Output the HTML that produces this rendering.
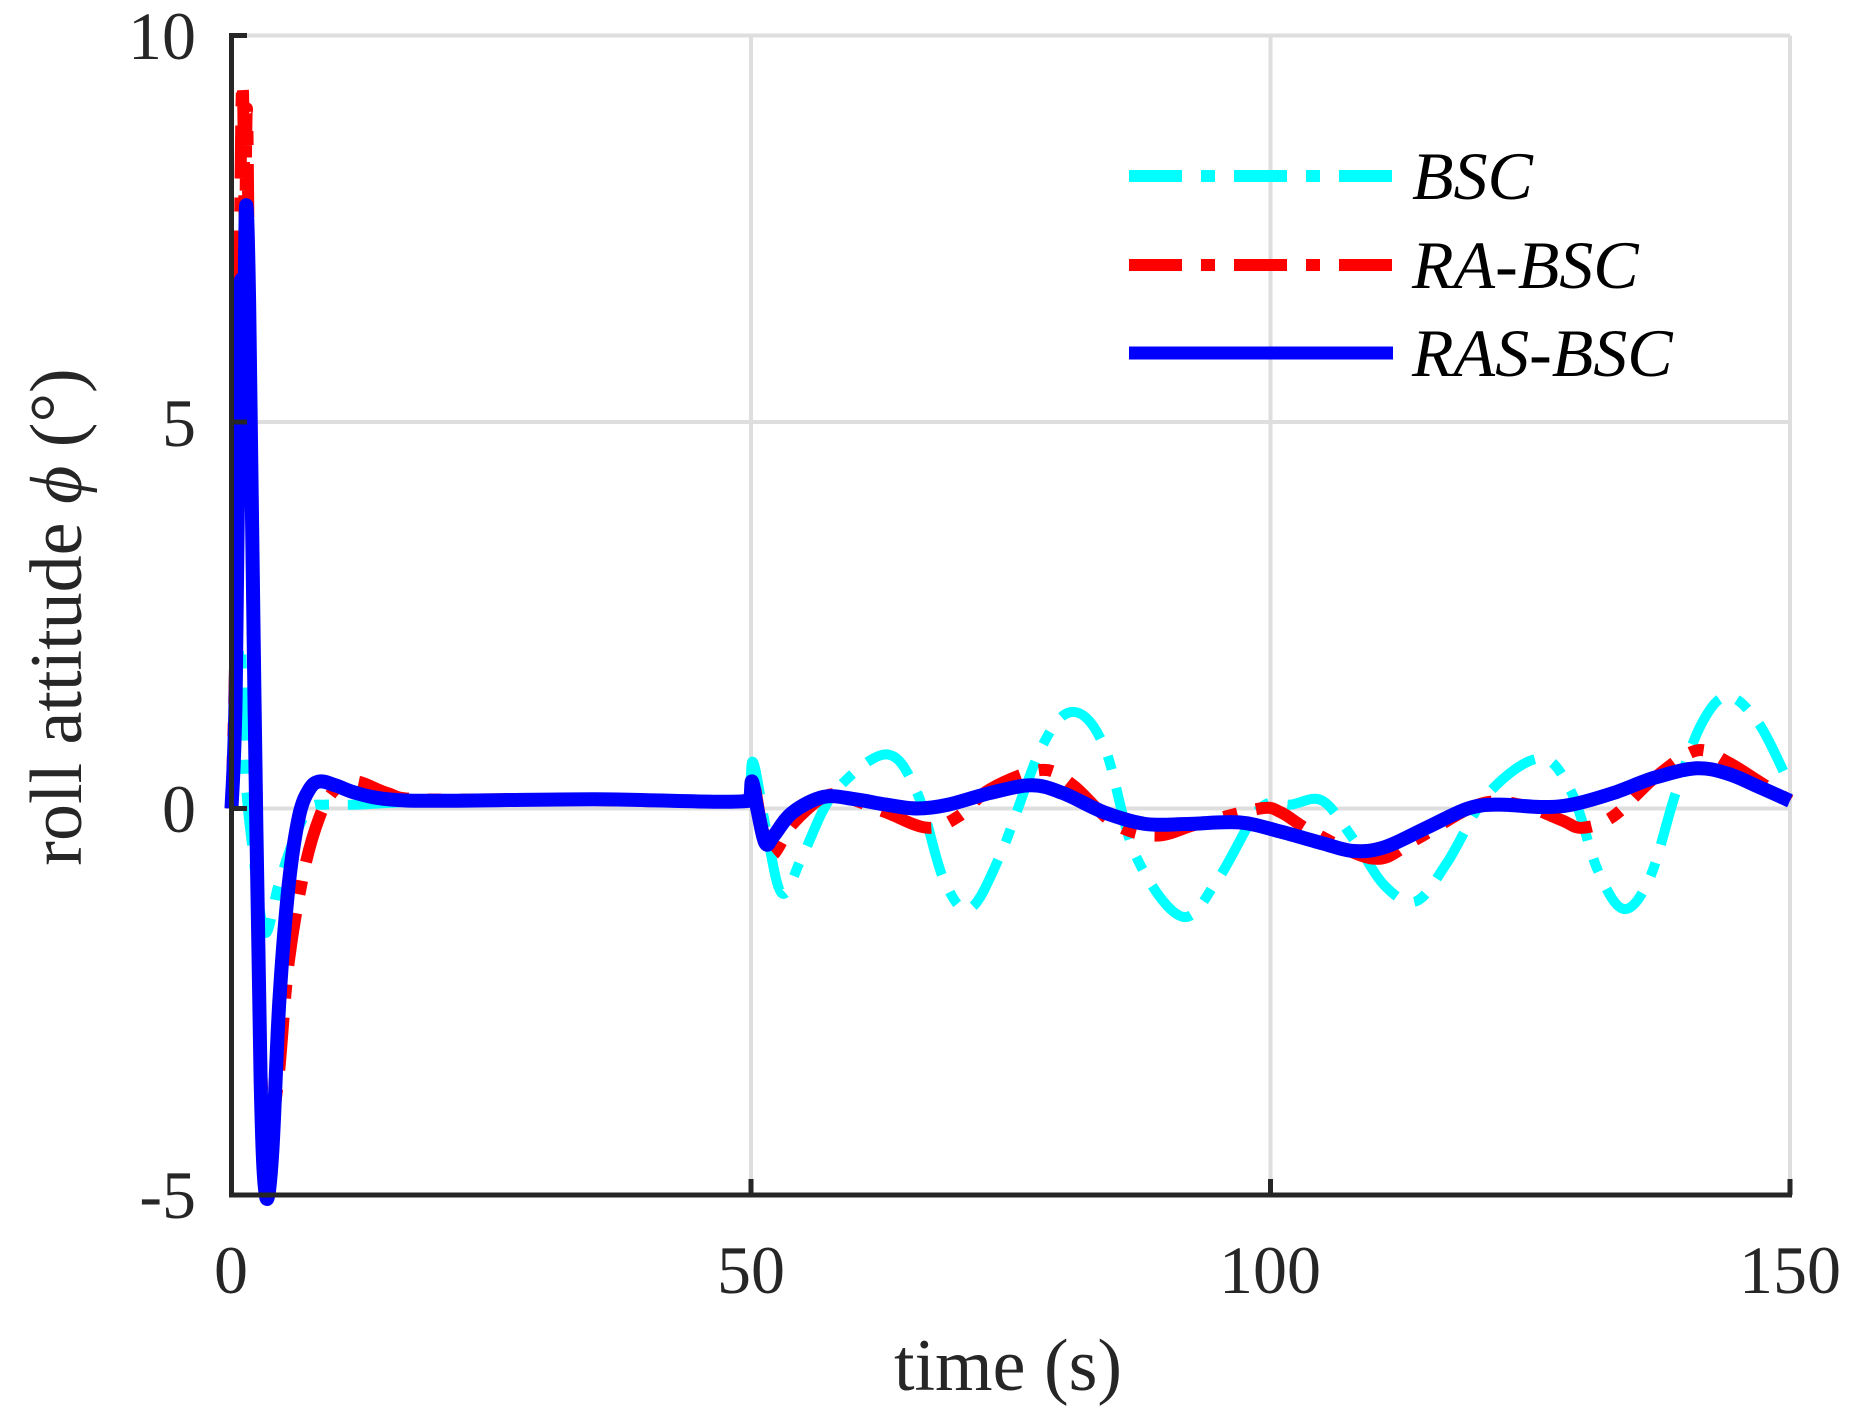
<!DOCTYPE html>
<html><head><meta charset="utf-8"><style>
html,body{margin:0;padding:0;background:#fff;}
svg{display:block;}
text{font-family:"Liberation Serif","Times New Roman",serif;fill:#262626;}
</style></head><body>
<svg id="s" width="1856" height="1418" viewBox="0 0 1856 1418" xmlns="http://www.w3.org/2000/svg">
<rect width="1856" height="1418" fill="#fff"/>
<g stroke="#dedede" stroke-width="4">
<line x1="231.5" y1="35.5" x2="1790" y2="35.5"/>
<line x1="231.5" y1="422" x2="1790" y2="422"/>
<line x1="231.5" y1="808.5" x2="1790" y2="808.5"/>
<line x1="751" y1="35.5" x2="751" y2="1195"/>
<line x1="1270.5" y1="35.5" x2="1270.5" y2="1195"/>
<line x1="1790" y1="35.5" x2="1790" y2="1195"/>
</g>
<g id="series" fill="none" stroke-linejoin="round"></g>
<g stroke="#262626" stroke-width="5" fill="none">
<line x1="231.5" y1="33" x2="231.5" y2="1197.5"/>
<line x1="229" y1="1195" x2="1792" y2="1195"/>
<line x1="231.5" y1="35.5" x2="247" y2="35.5"/>
<line x1="231.5" y1="422" x2="247" y2="422"/>
<line x1="231.5" y1="808.5" x2="247" y2="808.5"/>
<line x1="751" y1="1195" x2="751" y2="1179"/>
<line x1="1270.5" y1="1195" x2="1270.5" y2="1179"/>
<line x1="1790" y1="1195" x2="1790" y2="1179"/>
</g>
<g font-size="68" text-anchor="end">
<text x="196" y="59">10</text>
<text x="196" y="446">5</text>
<text x="196" y="832">0</text>
<text x="196" y="1218">-5</text>
</g>
<g font-size="68" text-anchor="middle">
<text x="231" y="1293">0</text>
<text x="751" y="1293">50</text>
<text x="1270" y="1293">100</text>
<text x="1790" y="1293">150</text>
</g>
<text x="1008" y="1390" font-size="74" text-anchor="middle">time (s)</text>
<text transform="translate(81,617) rotate(-90)" font-size="74" text-anchor="middle">roll attitude <tspan font-style="italic">ϕ</tspan> (°)</text>
<g stroke-width="12">
<line x1="1129" y1="176" x2="1393" y2="176" stroke="#00ffff" stroke-dasharray="53 19 14 19"/>
<line x1="1129" y1="265" x2="1393" y2="265" stroke="#ff0000" stroke-dasharray="53 19 14 19"/>
<line x1="1129" y1="353" x2="1393" y2="353" stroke="#0000ff" stroke-width="13"/>
</g>
<g font-size="68" font-style="italic" fill="#000">
<text x="1412" y="199" style="fill:#000">BSC</text>
<text x="1412" y="288" style="fill:#000">RA-BSC</text>
<text x="1412" y="376" style="fill:#000">RAS-BSC</text>
</g>
</svg>
<script>
var X=function(t){return 231.5+t*10.39;},Y=function(v){return 808.5-v*77.3;};
function path(pts){
 var p=pts.map(function(a){return [X(a[0]),Y(a[1])];});
 var d="M"+p[0][0].toFixed(1)+","+p[0][1].toFixed(1);
 for(var i=0;i<p.length-1;i++){
  var p0=p[i-1]||p[i],p1=p[i],p2=p[i+1],p3=p[i+2]||p2;
  var c1=[p1[0]+(p2[0]-p0[0])/6,p1[1]+(p2[1]-p0[1])/6];
  var c2=[p2[0]-(p3[0]-p1[0])/6,p2[1]-(p3[1]-p1[1])/6];
  if(c1[0]>p2[0])c1[0]=p2[0]; if(c2[0]<p1[0])c2[0]=p1[0];
  d+="C"+c1[0].toFixed(1)+","+c1[1].toFixed(1)+" "+c2[0].toFixed(1)+","+c2[1].toFixed(1)+" "+p2[0].toFixed(1)+","+p2[1].toFixed(1);
 }
 return d;
}
var cyan=[[0,0],[0.5,1.5],[0.9,2.1],[1.3,0.5],[2,-0.5],[3.2,-1.6],[4.5,-1.0],[6,-0.4],[7.5,0],[9,0.05],[12,0.05],[20,0.1],[35,0.12],[49.5,0.1],[50.2,0.6],[51.5,-0.3],[53,-1.1],[55,-0.6],[58,0.2],[63,0.7],[66,0.2],[68.5,-0.9],[71,-1.3],[74,-0.6],[78,0.8],[81,1.25],[84,0.8],[87,-0.6],[91.5,-1.4],[95,-0.9],[99,0],[102,0.05],[105,0.1],[108,-0.4],[111,-1.0],[114,-1.2],[117,-0.7],[121,0.2],[126,0.65],[129,0.2],[131.5,-0.8],[134,-1.3],[136.5,-0.9],[139,0.2],[141.5,1.1],[144,1.45],[147,1.1],[150,0.3]];
var red=[[0,0],[0.5,3],[0.9,8.5],[1.1,9.3],[1.3,7.5],[1.5,9.0],[1.8,5],[2.3,0],[2.9,-3.5],[3.5,-4.3],[4.5,-3.5],[5.5,-2.0],[7,-0.8],[8.5,-0.1],[10,0.25],[12,0.35],[15,0.2],[18,0.12],[30,0.12],[49.5,0.1],[50.2,0.35],[51,-0.2],[52,-0.6],[54,-0.2],[57,0.15],[59,0.15],[63,-0.05],[67,-0.25],[70,-0.1],[73,0.25],[78,0.5],[81,0.3],[85,-0.2],[89,-0.35],[93,-0.2],[99,0.0],[101,-0.05],[104,-0.3],[110,-0.65],[114,-0.4],[120,0.05],[124,0.05],[128,-0.15],[130,-0.25],[133,-0.1],[137,0.4],[141,0.75],[144,0.6],[147,0.35],[150,0.1]];
var blue=[[0,0],[0.4,1.5],[0.8,6.2],[1.0,6.8],[1.2,6.2],[1.4,7.8],[1.7,6.5],[2.2,1.5],[2.8,-3.5],[3.3,-5.0],[3.9,-4.5],[4.6,-2.5],[5.5,-1.0],[6.5,-0.1],[7.5,0.25],[8.5,0.35],[10,0.3],[12,0.2],[15,0.12],[20,0.1],[35,0.12],[49.8,0.1],[50.1,0.35],[50.6,0.0],[51.4,-0.45],[52.2,-0.35],[54,-0.05],[57,0.15],[60,0.12],[63,0.05],[66,0.0],[69,0.05],[73,0.2],[77,0.3],[80,0.2],[84,-0.05],[88,-0.2],[92,-0.2],[97,-0.18],[101,-0.3],[105,-0.45],[108,-0.55],[111,-0.5],[115,-0.25],[119,0.0],[122,0.05],[126,0.02],[129,0.05],[133,0.2],[137,0.4],[141,0.52],[144,0.45],[147,0.28],[150,0.1]];
var g=document.getElementById("series"),ns="http://www.w3.org/2000/svg";
function add(pts,col,w,dash){var e=document.createElementNS(ns,"path");e.setAttribute("d",path(pts));e.setAttribute("stroke",col);e.setAttribute("stroke-width",w);if(dash)e.setAttribute("stroke-dasharray",dash);g.appendChild(e);}
add(cyan,"#00ffff",10,"53 19 14 19");
add(red,"#ff0000",12,"53 19 14 19");
add(blue,"#0000ff",14,null);
</script>
</body></html>
